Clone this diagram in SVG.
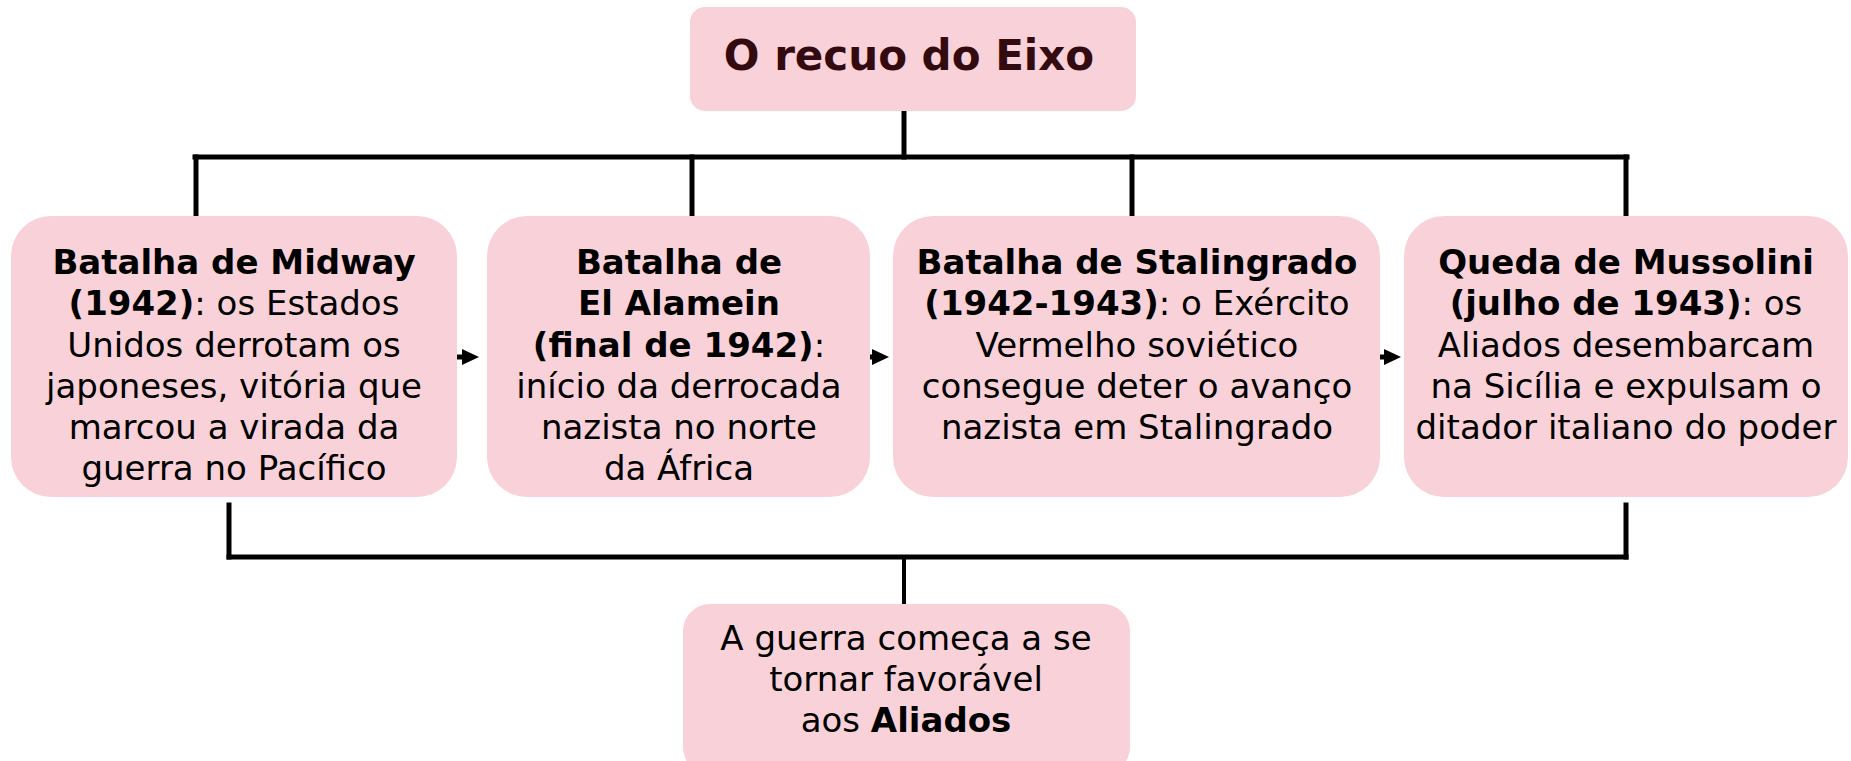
<svg xmlns="http://www.w3.org/2000/svg" width="1851" height="761" viewBox="0 0 1851 761">
<style>
.box{fill:#f9d1d8;}
.t{font-family:"DejaVu Sans","Verdana",sans-serif;font-size:34px;fill:#000;text-anchor:middle;}
.b{font-weight:bold;}
.title{font-family:"DejaVu Sans","Verdana",sans-serif;font-size:42px;font-weight:bold;fill:#330a10;text-anchor:middle;}
.ln{stroke:#000;stroke-width:5;fill:none;stroke-linecap:square;}
.ah{fill:#000;}
</style>
<rect width="1851" height="761" fill="#fff"/>
<g id="connectors">
  <line class="ln" x1="904" y1="113" x2="904" y2="157"/>
  <line class="ln" x1="195" y1="157" x2="1627" y2="157"/>
  <line class="ln" x1="196" y1="157" x2="196" y2="214"/>
  <line class="ln" x1="692" y1="157" x2="692" y2="214"/>
  <line class="ln" x1="1132" y1="157" x2="1132" y2="214"/>
  <line class="ln" x1="1626" y1="157" x2="1626" y2="214"/>
  <line class="ln" x1="229" y1="505" x2="229" y2="557"/>
  <line class="ln" x1="1626" y1="505" x2="1626" y2="557"/>
  <line class="ln" x1="229" y1="557" x2="1626" y2="557"/>
  <line class="ln" x1="904" y1="557" x2="904" y2="602" style="stroke-width:4"/>
  <line class="ln" x1="457" y1="357" x2="464" y2="357" style="stroke-linecap:butt"/>
  <polygon class="ah" points="462,349 479,357 462,365"/>
  <line class="ln" x1="870" y1="357" x2="874" y2="357" style="stroke-linecap:butt"/>
  <polygon class="ah" points="872,349 889,357 872,365"/>
  <line class="ln" x1="1380" y1="357" x2="1386" y2="357" style="stroke-linecap:butt"/>
  <polygon class="ah" points="1384,349 1401,357 1384,365"/>
</g>
<g id="title">
  <rect class="box" x="690" y="7" width="446" height="104" rx="15"/>
  <text class="title" x="909" y="70">O recuo do Eixo</text>
</g>
<g id="midway">
  <rect class="box" x="11" y="216" width="446" height="281" rx="40"/>
  <text class="t" x="234" y="274"><tspan class="b">Batalha de Midway</tspan></text>
  <text class="t" x="234" y="315"><tspan class="b">(1942)</tspan>: os Estados</text>
  <text class="t" x="234" y="357">Unidos derrotam os</text>
  <text class="t" x="234" y="398">japoneses, vitória que</text>
  <text class="t" x="234" y="439">marcou a virada da</text>
  <text class="t" x="234" y="480">guerra no Pacífico</text>
</g>
<g id="alamein">
  <rect class="box" x="487" y="216" width="383" height="281" rx="40"/>
  <text class="t" x="679" y="274"><tspan class="b">Batalha de</tspan></text>
  <text class="t" x="679" y="315"><tspan class="b">El Alamein</tspan></text>
  <text class="t" x="679" y="357"><tspan class="b">(final de 1942)</tspan>:</text>
  <text class="t" x="679" y="398">início da derrocada</text>
  <text class="t" x="679" y="439">nazista no norte</text>
  <text class="t" x="679" y="480">da África</text>
</g>
<g id="stalingrado">
  <rect class="box" x="893" y="216" width="487" height="281" rx="40"/>
  <text class="t" x="1137" y="274"><tspan class="b">Batalha de Stalingrado</tspan></text>
  <text class="t" x="1137" y="315"><tspan class="b">(1942-1943)</tspan>: o Exército</text>
  <text class="t" x="1137" y="357">Vermelho soviético</text>
  <text class="t" x="1137" y="398">consegue deter o avanço</text>
  <text class="t" x="1137" y="439">nazista em Stalingrado</text>
</g>
<g id="mussolini">
  <rect class="box" x="1404" y="216" width="444" height="281" rx="40"/>
  <text class="t" x="1626" y="274"><tspan class="b">Queda de Mussolini</tspan></text>
  <text class="t" x="1626" y="315"><tspan class="b">(julho de 1943)</tspan>: os</text>
  <text class="t" x="1626" y="357">Aliados desembarcam</text>
  <text class="t" x="1626" y="398">na Sicília e expulsam o</text>
  <text class="t" x="1626" y="439">ditador italiano do poder</text>
</g>
<g id="resultado">
  <rect class="box" x="683" y="604" width="447" height="170" rx="27"/>
  <text class="t" x="906" y="650">A guerra começa a se</text>
  <text class="t" x="906" y="691">tornar favorável</text>
  <text class="t" x="906" y="732">aos <tspan class="b">Aliados</tspan></text>
</g>
</svg>
